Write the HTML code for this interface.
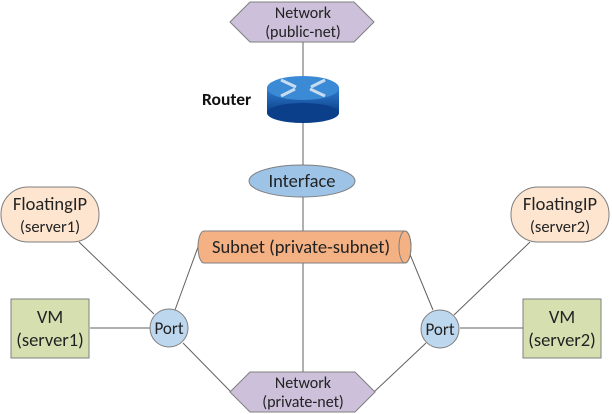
<!DOCTYPE html>
<html><head><meta charset="utf-8"><style>
body{margin:0;background:#fff;}
svg{display:block;font-family:"Liberation Sans",sans-serif;}
text{font-family:Calibri,"Carlito","Liberation Sans",sans-serif;}
</style></head><body>
<svg width="612" height="414" viewBox="0 0 612 414" xmlns="http://www.w3.org/2000/svg">
<defs>
<linearGradient id="rt" x1="0" y1="0" x2="0" y2="1"><stop offset="0" stop-color="#2f7fd0"/><stop offset="1" stop-color="#0b3f8a"/></linearGradient>
</defs>
<g stroke="#606060" stroke-width="1" fill="none">
<line x1="303" y1="42" x2="303" y2="372"/>
<line x1="79" y1="242" x2="154" y2="314"/>
<line x1="90" y1="328" x2="150" y2="328"/>
<line x1="175" y1="310" x2="198" y2="247"/>
<line x1="183" y1="343" x2="231" y2="392"/>
<line x1="409" y1="252" x2="433" y2="310"/>
<line x1="454" y1="315" x2="530" y2="242"/>
<line x1="460" y1="328" x2="523" y2="328"/>
<line x1="426" y1="343" x2="374" y2="392"/>
</g>
<polygon points="230,22 250,2 354,2 374,22 354,42 250,42" fill="#ccc0da" stroke="#7f7f7f"/>
<text x="303" y="18" font-size="16" text-anchor="middle" fill="#222">Network</text>
<text x="303" y="37" font-size="16" text-anchor="middle" fill="#222">(public-net)</text>
<rect x="267" y="88" width="72" height="25" fill="url(#rt)"/>
<ellipse cx="303" cy="113" rx="36" ry="10" fill="#0b3f8a"/>
<ellipse cx="303" cy="88" rx="36" ry="12" fill="#3b8ad6"/>
<g stroke="#c8dcf0" stroke-width="3">
<line x1="281" y1="80" x2="296" y2="87"/><line x1="325" y1="96" x2="310" y2="89"/>
<line x1="325" y1="80" x2="311" y2="87"/><line x1="281" y1="96" x2="295" y2="89"/>
</g>
<text x="202" y="105" font-size="17.5" font-weight="bold" fill="#111">Router</text>
<ellipse cx="302" cy="181" rx="53" ry="16" fill="#9dc3e6" stroke="#7f7f7f"/>
<text x="302" y="187" font-size="18.5" text-anchor="middle" fill="#222">Interface</text>
<path d="M204,231 H405 A6,16 0 0 1 405,263 H204 A6,16 0 0 1 204,231 Z" fill="#f4b183" stroke="#7f7f7f"/>
<ellipse cx="405" cy="247" rx="6" ry="16" fill="none" stroke="#7f7f7f"/>
<text x="301" y="253" font-size="18.5" text-anchor="middle" fill="#222">Subnet (private-subnet)</text>
<rect x="1" y="187" width="98" height="55" rx="27" fill="#fde5cf" stroke="#7f7f7f"/>
<text x="50" y="210" font-size="18.5" text-anchor="middle" fill="#222">FloatingIP</text>
<text x="50" y="232" font-size="16.5" text-anchor="middle" fill="#222">(server1)</text>
<rect x="511" y="187" width="98" height="55" rx="27" fill="#fde5cf" stroke="#7f7f7f"/>
<text x="560" y="210" font-size="18.5" text-anchor="middle" fill="#222">FloatingIP</text>
<text x="560" y="232" font-size="16.5" text-anchor="middle" fill="#222">(server2)</text>
<rect x="11" y="299" width="78" height="59" fill="#d6dfb0" stroke="#7f7f7f"/>
<text x="50" y="323" font-size="18.5" text-anchor="middle" fill="#222">VM</text>
<text x="50" y="346" font-size="18.5" text-anchor="middle" fill="#222">(server1)</text>
<rect x="523" y="299" width="78" height="59" fill="#d6dfb0" stroke="#7f7f7f"/>
<text x="562" y="323" font-size="18.5" text-anchor="middle" fill="#222">VM</text>
<text x="562" y="346" font-size="18.5" text-anchor="middle" fill="#222">(server2)</text>
<circle cx="169" cy="328" r="19" fill="#bdd7ee" stroke="#7f7f7f"/>
<text x="169" y="334" font-size="17" text-anchor="middle" fill="#222">Port</text>
<circle cx="440" cy="329" r="19" fill="#bdd7ee" stroke="#7f7f7f"/>
<text x="440" y="335" font-size="17" text-anchor="middle" fill="#222">Port</text>
<polygon points="230,392 250,372 355,372 375,392 355,412 250,412" fill="#ccc0da" stroke="#7f7f7f"/>
<text x="303" y="388" font-size="16" text-anchor="middle" fill="#222">Network</text>
<text x="303" y="407" font-size="16" text-anchor="middle" fill="#222">(private-net)</text>
</svg>
</body></html>
